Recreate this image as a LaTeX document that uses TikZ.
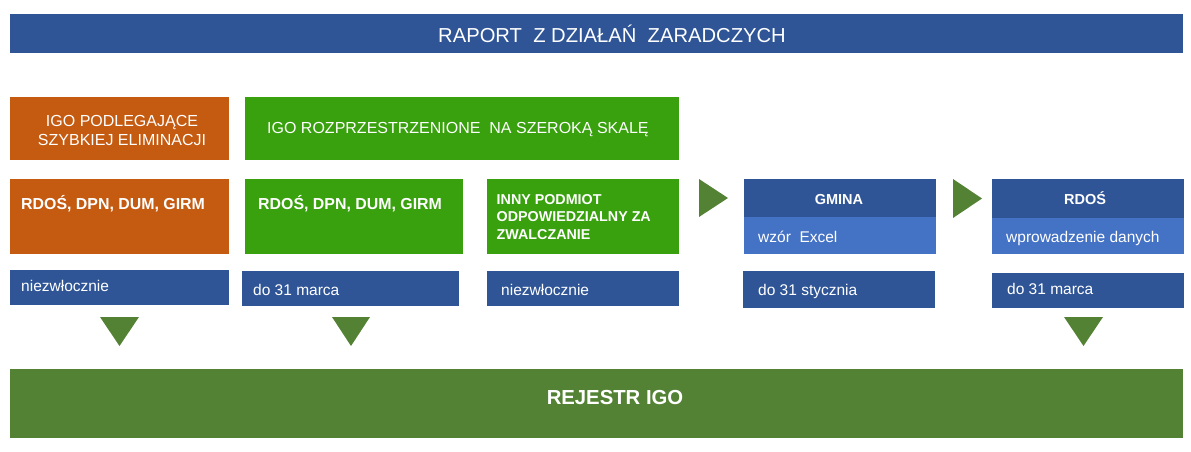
\documentclass[tikz,border=0pt]{standalone}
\usepackage{fontspec}
\setmainfont{Liberation Sans}
\usepackage{xcolor}
\usetikzlibrary{positioning}

\definecolor{navy}{HTML}{2F5597}
\definecolor{skyblue}{HTML}{4472C4}
\definecolor{rust}{HTML}{C55A11}
\definecolor{lime}{HTML}{38A10D}
\definecolor{moss}{HTML}{548235}

\begin{document}
\begin{tikzpicture}[x=1pt, y=-1pt,
    box/.style={fill=#1, draw=none, inner sep=0pt, anchor=north west},
    txt/.style={text=white, inner sep=0pt, anchor=base west, font=\fontsize{15.5}{18}\selectfont},
    bold/.style={txt, font=\fontsize{15.9}{18}\selectfont\bfseries}]
    \useasboundingbox (0,0) rectangle (1191,452);

    % header
    \node[box=navy, minimum width=1173pt, minimum height=38.5pt] (raport) at (10,14) {};
    \node[txt, anchor=base, font=\fontsize{20.2}{22}\selectfont] (raportT) at (612,43) {RAPORT\ \ Z DZIAŁAŃ\ \ ZARADCZYCH};

    % top row
    \node[box=rust, minimum width=219pt, minimum height=63pt] (szyb) at (10,97) {};
    \node[txt, anchor=base, align=center, font=\fontsize{16}{19}\selectfont] (szybT) at (122,145) {IGO\ PODLEGAJĄCE\\SZYBKIEJ\ ELIMINACJI};
    \node[box=lime, minimum width=434pt, minimum height=63pt] (rozp) at (245,97) {};
    \node[txt, font=\fontsize{16}{19}\selectfont] (rozpT) at (267,133) {IGO\ ROZPRZESTRZENIONE\ \ NA SZEROKĄ SKALĘ};

    % second row
    \node[box=rust, minimum width=219pt, minimum height=74.5pt] (rdosA) at (10,179) {};
    \node[bold] (rdosAT) at (21,209) {RDOŚ, DPN, DUM, GIRM};
    \node[box=lime, minimum width=218pt, minimum height=74.5pt] (rdosB) at (245,179) {};
    \node[bold] (rdosBT) at (258,209) {RDOŚ, DPN, DUM, GIRM};
    \node[box=lime, minimum width=192pt, minimum height=74.5pt] (inny) at (487,179) {};
    \node[bold, align=left, font=\fontsize{14.3}{17.6}\selectfont\bfseries] (innyT) at (496.5,239.3) {INNY PODMIOT\\ODPOWIEDZIALNY ZA\\ZWALCZANIE};

    \node[box=navy, minimum width=192pt, minimum height=38pt] (gmina) at (744,179) {};
    \node[box=skyblue, minimum width=192pt, minimum height=36.7pt] (gminaB) at (744,217) {};
    \node[bold, anchor=base, font=\fontsize{14.5}{17}\selectfont\bfseries] (gminaT) at (839,204.5) {GMINA};
    \node[txt] (excel) at (758,242) {wzór\ \ Excel};

    \node[box=navy, minimum width=192pt, minimum height=39pt] (rdosC) at (992,179) {};
    \node[box=skyblue, minimum width=192pt, minimum height=35.7pt] (rdosCB) at (992,218) {};
    \node[bold, anchor=base, font=\fontsize{14.5}{17}\selectfont\bfseries] (rdosCT) at (1085,204.5) {RDOŚ};
    \node[txt] (dane) at (1006,242) {wprowadzenie danych};

    % deadlines
    \node[box=navy, minimum width=219pt, minimum height=34.7pt] (termA) at (10,270) {};
    \node[txt] (termAT) at (21,291) {niezwłocznie};
    \node[box=navy, minimum width=217pt, minimum height=34.7pt] (termB) at (242,271) {};
    \node[txt] (termBT) at (253,295) {do 31 marca};
    \node[box=navy, minimum width=192pt, minimum height=34.7pt] (termC) at (487,271) {};
    \node[txt] (termCT) at (501,295) {niezwłocznie};
    \node[box=navy, minimum width=192pt, minimum height=36.7pt] (termD) at (743,271) {};
    \node[txt] (termDT) at (758,295) {do 31 stycznia};
    \node[box=navy, minimum width=192pt, minimum height=34.7pt] (termE) at (992,273) {};
    \node[txt] (termET) at (1007,294) {do 31 marca};

    % register
    \node[box=moss, minimum width=1173pt, minimum height=68.7pt] (rejestr) at (10,369) {};
    \node[bold, anchor=base, font=\fontsize{20.3}{22}\selectfont\bfseries] (rejestrT) at (615,404.3) {REJESTR IGO};

    % triangles
    \fill[moss] (699,179) -- (699,217) -- (728,198) -- cycle;
    \fill[moss] (953,179) -- (953,218) -- (982,198.5) -- cycle;
    \fill[moss] (100,317) -- (139,317) -- (119.5,346) -- cycle;
    \fill[moss] (332,317) -- (370,317) -- (351,346) -- cycle;
    \fill[moss] (1064,317) -- (1103,317) -- (1083.5,346) -- cycle;
\end{tikzpicture}
\end{document}
